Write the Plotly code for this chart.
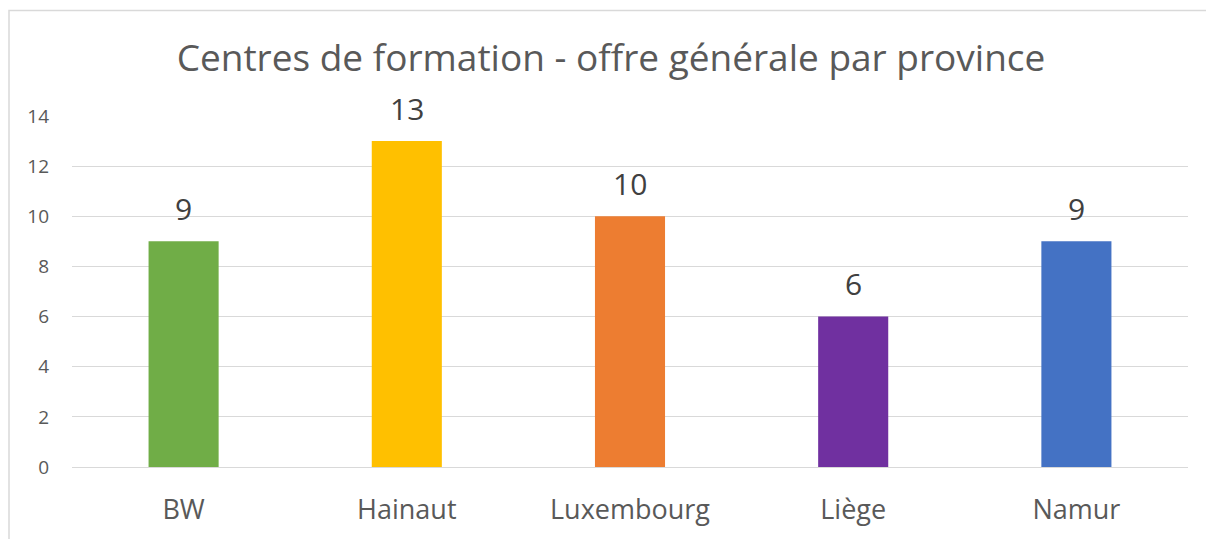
import plotly.graph_objects as go

categories = ["BW", "Hainaut", "Luxembourg", "Liège", "Namur"]
values = [9, 13, 10, 6, 9]
colors = ["#70AD47", "#FFC000", "#ED7D31", "#7030A0", "#4472C4"]
y_ticks = [0, 2, 4, 6, 8, 10, 12, 14]
title_text = "Centres de formation - offre générale par province"

FONT = "Open Sans, sans-serif"
# the page body adds an 8px margin, so the figure is drawn 8px in from the top-left
W, H = 1206, 531
ml, mr, mt, mb = 64, 26, 108, 70
pw, ph = W - ml - mr, H - mt - mb

fig = go.Figure(go.Bar(
    x=categories, y=values, marker_color=colors, marker_line_width=0,
))

annotations = [dict(x=c, y=v, xref="x", yref="y", text=str(v), showarrow=False,
                    yanchor="middle", yshift=33,
                    font=dict(family=FONT, size=30, color="#404040"))
               for c, v in zip(categories, values)]

fig.update_layout(
    width=W, height=H,
    margin=dict(l=ml, r=mr, t=mt, b=mb),
    paper_bgcolor="white", plot_bgcolor="white",
    bargap=0.686,
    showlegend=False,
    title=dict(text=title_text, x=0.5, xanchor="center", y=1 - 50 / H, yanchor="middle",
               font=dict(family=FONT, size=37, color="#595959")),
    xaxis=dict(showgrid=False, showline=False, ticks="",
               tickfont=dict(family=FONT, size=27, color="#595959"), ticklabelstandoff=24),
    yaxis=dict(range=[0, 14], tickvals=y_ticks, showgrid=True, gridcolor="#D9D9D9", gridwidth=1,
               zeroline=True, zerolinecolor="#D9D9D9", zerolinewidth=1, showline=False, ticks="",
               tickfont=dict(family=FONT, size=19, color="#595959"), ticklabelstandoff=22),
    annotations=annotations,
    shapes=[dict(type="rect", xref="paper", yref="paper",
                 x0=(1 - ml) / pw, x1=(1400 - ml) / pw,
                 y0=(H - mb - 700) / ph, y1=(H - mb - 2) / ph,
                 line=dict(color="#D9D9D9", width=1.5), fillcolor="rgba(0,0,0,0)", layer="below")],
)

fig.write_html("out.html")
